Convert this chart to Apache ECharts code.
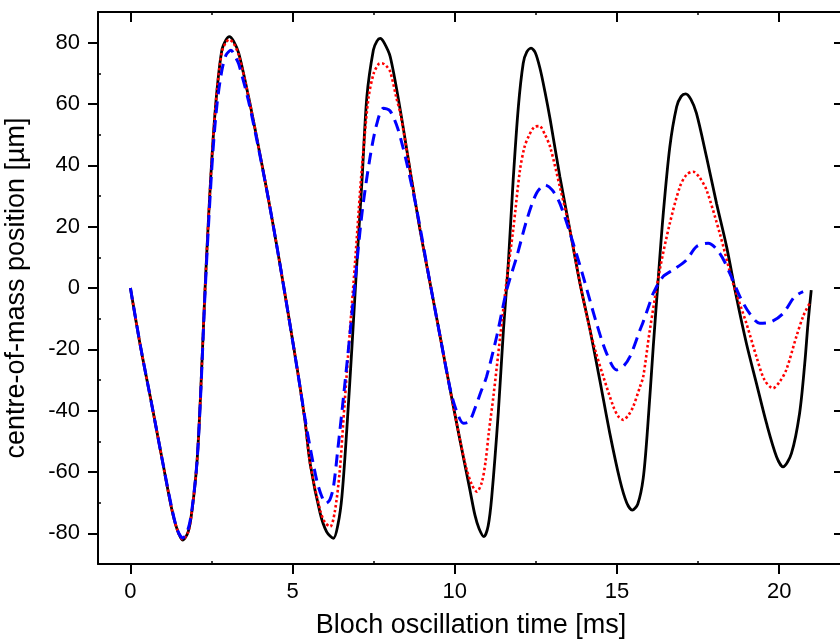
<!DOCTYPE html>
<html>
<head>
<meta charset="utf-8">
<script src="https://cdn.jsdelivr.net/npm/echarts@6/dist/echarts.min.js"></script>
<style>
html,body{margin:0;padding:0;background:#fff;}
#chart{width:840px;height:644px;}
</style>
</head>
<body>
<div id="chart"></div>
<script>
// ---- data ----
const xTicks = [0, 5, 10, 15, 20];
const xMinorTicks = [2.5, 7.5, 12.5, 17.5];
const yTicks = [-80, -60, -40, -20, 0, 20, 40, 60, 80];
const yMinorTicks = [-70, -50, -30, -10, 10, 30, 50, 70];
const xTitle = 'Bloch oscillation time [ms]';
const yTitle = 'centre-of-mass position [µm]';

const blackT = [0, 0.31, 0.67, 0.98, 1.28, 1.45, 1.61, 1.78, 1.9, 2.05, 2.16, 2.29, 2.41, 2.54, 2.67, 2.82, 2.95, 3.05, 3.18, 3.34, 3.64, 3.95, 4.26, 4.57, 4.88, 5.18, 5.39, 5.54, 5.85, 6.05, 6.26, 6.4, 6.52, 6.67, 6.83, 6.98, 7.14, 7.29, 7.49, 7.6, 7.7, 7.82, 8.01, 8.32, 8.62, 8.93, 9.24, 9.55, 9.86, 10.16, 10.47, 10.62, 10.75, 10.9, 11.03, 11.14, 11.34, 11.5, 11.65, 11.8, 11.96, 12.11, 12.22, 12.35, 12.48, 12.63, 12.78, 12.94, 13.24, 13.55, 13.86, 14.17, 14.47, 14.78, 15.09, 15.3, 15.47, 15.64, 15.81, 15.95, 16.12, 16.27, 16.42, 16.63, 16.84, 16.98, 17.12, 17.28, 17.45, 17.76, 18.07, 18.38, 18.68, 18.99, 19.3, 19.61, 19.92, 20.12, 20.38, 20.63, 20.79, 20.89, 20.99];
const blackV = [0, -19.1, -38.7, -56, -72.4, -79, -82.2, -79.5, -72.4, -57, -35.4, -2.8, 23.3, 47.2, 64.6, 77.6, 81, 82, 80.5, 76.5, 62.4, 46, 28.7, 10.2, -9.4, -28.9, -44, -57.2, -73.5, -79.5, -81.6, -77, -68, -46.3, -19.1, 8, 35.2, 62.4, 77.6, 80.5, 81.4, 80, 75.4, 58, 38.5, 18.9, 1.5, -15.9, -33.3, -49.6, -66, -74, -78.5, -81.1, -77.5, -68, -40.9, -13.7, 8, 35.2, 59.1, 73.3, 77, 78.2, 76.8, 71.5, 64, 55, 36.3, 18.9, 1.5, -13.7, -30, -47.4, -62.6, -70, -72.4, -70.5, -62, -45, -19, 2.6, 23.3, 46, 59.1, 62.5, 63.3, 61.5, 57, 42.8, 27.6, 13.5, -2.8, -18, -31.1, -44.1, -55, -58.3, -53.9, -40.9, -24.6, -11.5, -0.7];

const redT = [0, 0.31, 0.67, 0.98, 1.28, 1.45, 1.61, 1.78, 1.9, 2.05, 2.16, 2.29, 2.41, 2.54, 2.67, 2.82, 2.95, 3.05, 3.18, 3.34, 3.64, 3.95, 4.26, 4.57, 4.88, 5.18, 5.39, 5.54, 5.85, 6.0, 6.16, 6.3, 6.45, 6.6, 6.78, 6.93, 7.09, 7.2, 7.34, 7.5, 7.65, 7.75, 7.88, 8.01, 8.2, 8.32, 8.62, 8.93, 9.24, 9.55, 9.86, 10.16, 10.35, 10.52, 10.68, 10.83, 10.95, 11.05, 11.19, 11.4, 11.6, 11.8, 12.01, 12.15, 12.27, 12.45, 12.61, 12.78, 12.94, 13.24, 13.55, 13.86, 14.17, 14.35, 14.58, 14.89, 15.05, 15.19, 15.35, 15.5, 15.71, 15.81, 16.01, 16.32, 16.63, 16.94, 17.15, 17.35, 17.55, 17.76, 18.17, 18.58, 18.99, 19.3, 19.55, 19.81, 20.02, 20.22, 20.53, 20.75, 20.94];
const redV = [0, -19.1, -38.7, -56, -72.4, -79, -82, -79.5, -72.4, -57, -35.4, -2.8, 23.3, 47.2, 64.6, 77, 80.2, 81, 79.8, 76, 62.4, 46, 28.7, 10.2, -9.4, -28.9, -44, -57.2, -72.5, -76.5, -77.8, -73, -60, -38, -12, 9, 33, 47, 62, 70, 73, 73.3, 72.5, 70.5, 62, 57, 38.5, 18.9, 1.5, -15.9, -33.3, -49.5, -58.5, -64, -66.4, -63.5, -56.5, -47, -35.4, -15.9, 2.6, 18.9, 38.5, 46, 49.3, 52.5, 52.8, 50, 46, 33, 18.9, 1.5, -13.7, -21, -28.9, -38.7, -42, -43, -41.5, -38.7, -32.2, -28.9, -14, 5.9, 21.1, 33, 37, 37.9, 36, 32, 17.8, 1.5, -11.5, -22.4, -30, -32.7, -30.5, -26.7, -15.9, -9, -5];

const blueT = [0, 0.31, 0.67, 0.98, 1.28, 1.45, 1.61, 1.78, 1.9, 2.05, 2.16, 2.29, 2.41, 2.54, 2.67, 2.82, 2.95, 3.1, 3.25, 3.34, 3.64, 3.95, 4.26, 4.57, 4.88, 5.18, 5.39, 5.54, 5.75, 5.9, 6.03, 6.15, 6.26, 6.4, 6.57, 6.78, 6.93, 7.14, 7.39, 7.6, 7.8, 8.0, 8.21, 8.35, 8.52, 8.83, 9.24, 9.55, 9.86, 10.05, 10.27, 10.45, 10.63, 10.8, 10.98, 11.29, 11.6, 11.91, 12.22, 12.52, 12.78, 13.0, 13.24, 13.65, 13.96, 14.37, 14.68, 14.99, 15.2, 15.4, 15.71, 15.81, 16.01, 16.12, 16.42, 16.73, 17.14, 17.45, 17.81, 18.17, 18.48, 18.79, 19.09, 19.4, 19.76, 20.12, 20.48, 20.74];
const blueV = [0, -19, -38.7, -56, -72, -79, -81.5, -78.5, -72, -57, -36, -4, 21, 44, 60, 71, 76, 77.5, 75, 73, 61, 45.5, 28.7, 10.2, -9.4, -29, -43, -52, -63, -68, -70.2, -69, -64.8, -52, -35.4, -13.7, 2.6, 24.4, 42.8, 53.7, 58.6, 57.8, 53, 48, 40.7, 25.4, 1.5, -15.9, -33, -40, -44.1, -43.5, -39, -34, -28.9, -15.9, -0.7, 10.2, 22.2, 30.9, 33.6, 32, 27.6, 14.6, 3.7, -11.5, -21.3, -26.7, -25.5, -22.4, -13.7, -11, -5, -1.7, 3.7, 5.9, 9.1, 13.5, 14.6, 11.3, 4.8, -2.8, -8.3, -11.5, -11, -8.3, -2.8, -1.2];

function pairs(ts, vs) { return ts.map((t, i) => [t, vs[i]]); }

const FONT = 'Liberation Sans, Arial, sans-serif';
const chart = echarts.init(document.getElementById('chart'), null, {renderer: 'canvas'});

const axisLine = {show: true, onZero: false, lineStyle: {color: '#000', width: 2}};
const tickStyle = {color: '#000', width: 2};
const minorStyle = {color: '#000', width: 1.5};

function minorAxis(pos, isX, vals) {
  return {
    type: 'value', position: pos,
    min: isX ? -1 : -90, max: isX ? 22 : 90,
    axisLine: {show: false, onZero: false},
    axisTick: {show: true, inside: true, length: 3, customValues: vals, lineStyle: minorStyle},
    axisLabel: {show: false},
    splitLine: {show: false}
  };
}

chart.setOption({
  animation: false,
  backgroundColor: '#fff',
  grid: {left: 98, right: -4, top: 12, bottom: 80, containLabel: false, outerBoundsMode: 'none'},
  xAxis: [
    {
      type: 'value', position: 'bottom', min: -1, max: 22,
      axisLine: axisLine,
      axisTick: {show: true, inside: false, length: 10, customValues: xTicks, lineStyle: tickStyle},
      axisLabel: {show: true, customValues: xTicks, margin: 17, fontSize: 22, color: '#000', fontFamily: FONT},
      splitLine: {show: false},
      name: xTitle, nameLocation: 'middle', nameGap: 48,
      nameTextStyle: {fontSize: 27, color: '#000', fontFamily: FONT}
    },
    {
      type: 'value', position: 'top', min: -1, max: 22,
      axisLine: axisLine,
      axisTick: {show: true, inside: true, length: 10, customValues: xTicks, lineStyle: tickStyle},
      axisLabel: {show: false},
      splitLine: {show: false}
    },
    minorAxis('bottom', true, xMinorTicks),
    minorAxis('top', true, xMinorTicks)
  ],
  yAxis: [
    {
      type: 'value', position: 'left', min: -90, max: 90,
      axisLine: axisLine,
      axisTick: {show: true, inside: false, length: 10, customValues: yTicks, lineStyle: tickStyle},
      axisLabel: {show: true, customValues: yTicks, margin: 18, fontSize: 22, color: '#000', fontFamily: FONT},
      splitLine: {show: false},
      name: yTitle, nameLocation: 'middle', nameGap: 68,
      nameTextStyle: {fontSize: 27, color: '#000', fontFamily: FONT}
    },
    {
      type: 'value', position: 'right', min: -90, max: 90,
      axisLine: axisLine,
      axisTick: {show: true, inside: true, length: 10, customValues: yTicks, lineStyle: tickStyle},
      axisLabel: {show: false},
      splitLine: {show: false}
    },
    minorAxis('left', false, yMinorTicks),
    minorAxis('right', false, yMinorTicks)
  ],
  series: [
    {
      type: 'line', name: 'black', data: pairs(blackT, blackV), showSymbol: false,
      smooth: 0.3,
      lineStyle: {color: '#000', width: 2.8}
    },
    {
      type: 'line', name: 'red', data: pairs(redT, redV), showSymbol: false,
      smooth: 0.3,
      lineStyle: {color: '#ff0000', width: 2.6, type: [2.5, 2.5]}
    },
    {
      type: 'line', name: 'blue', data: pairs(blueT, blueV), showSymbol: false,
      smooth: 0.3,
      lineStyle: {color: '#0000ff', width: 3, type: [12, 7]}
    }
  ]
});
</script>
</body>
</html>
